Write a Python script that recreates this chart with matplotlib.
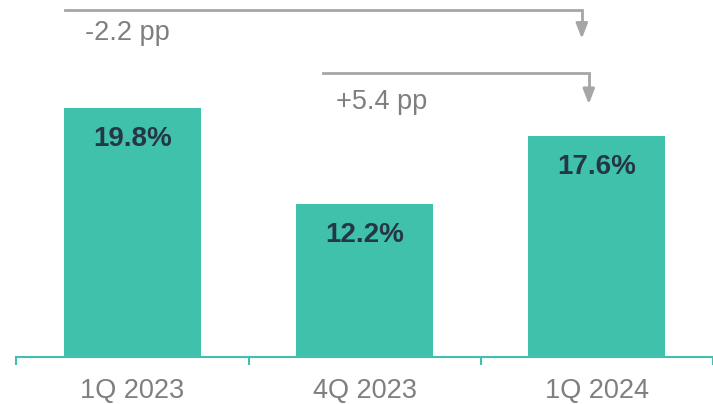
import matplotlib
matplotlib.use("Agg")
import matplotlib.pyplot as plt
import numpy as np

categories = ["1Q 2023", "4Q 2023", "1Q 2024"]
values = [19.8, 12.2, 17.6]

BAR_COLOR = "#40c1ac"
LABEL_COLOR = "#253746"
GRAY_TEXT = "#7f7f7f"
ARROW_COLOR = "#a6a6a6"

plt.rcParams["font.family"] = ["Liberation Sans", "DejaVu Sans"]

fig = plt.figure(figsize=(7.13, 4.04), dpi=100)
ax = fig.add_axes([16.5 / 713, 47 / 404, (713 - 16.5) / 713, 357 / 404])

x = np.arange(len(categories))
ax.bar(x, values, width=0.59, color=BAR_COLOR, zorder=2)
ax.set_xlim(-0.5, 2.434)
ax.set_ylim(0, 28.38)

# value labels inside the bar tops
for xi, v in zip(x, values):
    ax.annotate(f"{v:.1f}%", xy=(xi, v), xytext=(0, -22.5), textcoords="offset points",
                ha="center", va="center", fontsize=20, fontweight="bold",
                color=LABEL_COLOR)

# change brackets to the last bar
last = len(values) - 1
brackets = [
    # (from index, start offset, line y, tip y, end offset, text dx, text dy)
    (0, -0.29, 27.6, 25.3, -0.065, 0.085, -1.85),
    (1, -0.18, 22.6, 20.1, -0.035, 0.055, -2.35),
]
for i, x_off, y_line, y_tip, end_off, tdx, tdy in brackets:
    x0 = i + x_off
    x1 = last + end_off
    ax.plot([x0, x1, x1], [y_line, y_line, y_tip + 1.0], color=ARROW_COLOR,
            lw=2, solid_joinstyle="miter", clip_on=False, zorder=3)
    ax.annotate("", xy=(x1, y_tip), xytext=(x1, y_tip + 1.2),
                arrowprops=dict(arrowstyle="-|>,head_width=0.35,head_length=0.9",
                                color=ARROW_COLOR, lw=2, shrinkA=0, shrinkB=0))
    delta = values[last] - values[i]
    ax.text(x0 + tdx, y_line + tdy, f"{delta:+.1f} pp",
            ha="left", va="center", fontsize=19.5, color=GRAY_TEXT)

for s in ["top", "right", "left"]:
    ax.spines[s].set_visible(False)
ax.spines["bottom"].set_color(BAR_COLOR)
ax.spines["bottom"].set_linewidth(1.5)
ax.set_yticks([])

ax.set_xticks(x)
ax.set_xticklabels(categories, fontsize=19.5, color=GRAY_TEXT)
ax.tick_params(axis="x", which="major", length=0, pad=15)
ax.set_xticks(np.arange(-0.5, len(categories) + 0.5, 1), minor=True)
ax.tick_params(axis="x", which="minor", length=6, width=1.5, color=BAR_COLOR,
               direction="out")

fig.savefig("out.png", dpi=100)
